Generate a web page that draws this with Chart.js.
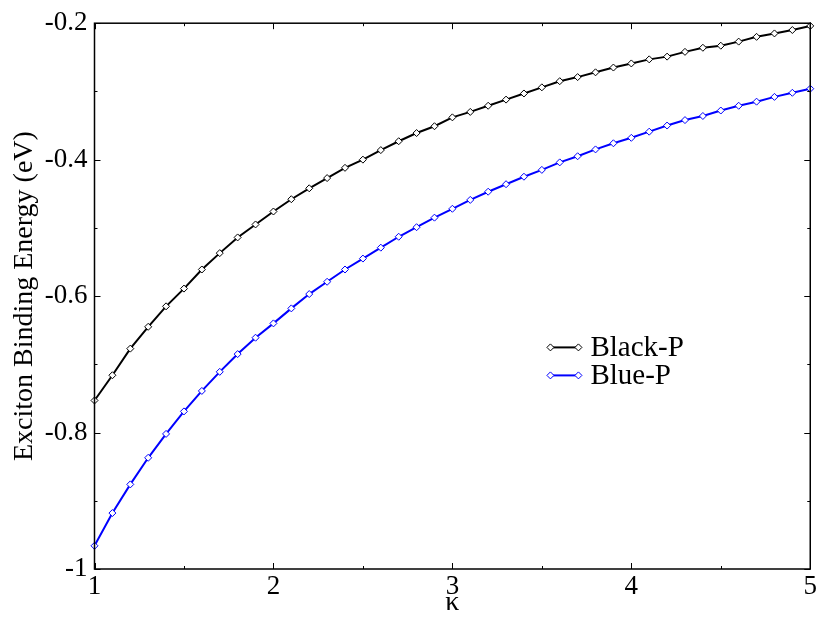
<!DOCTYPE html>
<html>
<head>
<meta charset="utf-8">
<script src="https://cdn.jsdelivr.net/npm/chart.js@4/dist/chart.umd.min.js"></script>
<style>
  html, body { margin: 0; padding: 0; background: #fff; }
  #wrap { width: 819px; height: 617px; }
</style>
</head>
<body>
<div id="wrap"><canvas id="c" width="819" height="617"></canvas></div>
<script>
const kappa = [1.0,1.1,1.2,1.3,1.4,1.5,1.6,1.7,1.8,1.9,2.0,2.1,2.2,2.3,2.4,2.5,2.6,2.7,2.8,2.9,3.0,3.1,3.2,3.3,3.4,3.5,3.6,3.7,3.8,3.9,4.0,4.1,4.2,4.3,4.4,4.5,4.6,4.7,4.8,4.9,5.0];
const blackP = [-0.753,-0.716,-0.677,-0.645,-0.615,-0.589,-0.561,-0.537,-0.514,-0.495,-0.476,-0.458,-0.442,-0.427,-0.412,-0.400,-0.386,-0.373,-0.361,-0.351,-0.338,-0.330,-0.321,-0.312,-0.303,-0.294,-0.285,-0.279,-0.272,-0.265,-0.259,-0.253,-0.249,-0.242,-0.236,-0.233,-0.227,-0.220,-0.215,-0.210,-0.204];
const blueP = [-0.966,-0.918,-0.876,-0.837,-0.802,-0.769,-0.739,-0.711,-0.685,-0.661,-0.640,-0.618,-0.597,-0.579,-0.561,-0.545,-0.529,-0.513,-0.499,-0.485,-0.472,-0.459,-0.447,-0.436,-0.425,-0.415,-0.404,-0.395,-0.385,-0.376,-0.368,-0.359,-0.350,-0.342,-0.336,-0.328,-0.321,-0.315,-0.308,-0.302,-0.296];
const seriesLabels = ["Black-P", "Blue-P"];
const seriesColors = ["#000000", "#0000ff"];
const xTicks = [1, 2, 3, 4, 5];
const yTicks = [-1, -0.8, -0.6, -0.4, -0.2];
const xTitle = "κ";
const yTitle = "Exciton Binding Energy (eV)";

const FONT = "'Liberation Serif', 'Times New Roman', serif";

function toXY(xs, ys) { return xs.map((x, i) => ({ x: x, y: ys[i] })); }

const frame = {
  id: 'frame',
  afterDraw(chart) {
    const ctx = chart.ctx;
    const a = chart.chartArea;
    const xs = chart.scales.x, ys = chart.scales.y;
    ctx.save();
    ctx.strokeStyle = '#000';
    ctx.lineWidth = 1.5;
    ctx.strokeRect(a.left, a.top, a.right - a.left, a.bottom - a.top);
    ctx.lineWidth = 1;
    for (let i = 0; i < xTicks.length; i++) {
      const px = Math.round(xs.getPixelForValue(xTicks[i])) + 0.5;
      ctx.beginPath();
      ctx.moveTo(px, a.bottom); ctx.lineTo(px, a.bottom - 6);
      ctx.moveTo(px, a.top); ctx.lineTo(px, a.top + 6);
      ctx.stroke();
      if (i < xTicks.length - 1) {
        const m = Math.round(xs.getPixelForValue((xTicks[i] + xTicks[i + 1]) / 2)) + 0.5;
        ctx.beginPath();
        ctx.moveTo(m, a.bottom); ctx.lineTo(m, a.bottom - 3);
        ctx.moveTo(m, a.top); ctx.lineTo(m, a.top + 3);
        ctx.stroke();
      }
    }
    for (let i = 0; i < yTicks.length; i++) {
      const py = Math.round(ys.getPixelForValue(yTicks[i])) + 0.5;
      ctx.beginPath();
      ctx.moveTo(a.left, py); ctx.lineTo(a.left + 6, py);
      ctx.moveTo(a.right, py); ctx.lineTo(a.right - 6, py);
      ctx.stroke();
      if (i < yTicks.length - 1) {
        const m = Math.round(ys.getPixelForValue((yTicks[i] + yTicks[i + 1]) / 2)) + 0.5;
        ctx.beginPath();
        ctx.moveTo(a.left, m); ctx.lineTo(a.left + 3, m);
        ctx.moveTo(a.right, m); ctx.lineTo(a.right - 3, m);
        ctx.stroke();
      }
    }
    // legend
    const lx0 = a.left + (a.right - a.left) * 0.637;
    const lx1 = lx0 + 28;
    const ly0 = a.top + (a.bottom - a.top) * 0.594;
    const step = 28;
    ctx.font = "29px " + FONT;
    ctx.textBaseline = 'middle';
    ctx.textAlign = 'left';
    for (let i = 0; i < seriesLabels.length; i++) {
      const y = ly0 + i * step;
      ctx.strokeStyle = seriesColors[i];
      ctx.lineWidth = 2;
      ctx.beginPath(); ctx.moveTo(lx0, y); ctx.lineTo(lx1, y); ctx.stroke();
      ctx.lineWidth = 1;
      ctx.fillStyle = '#fff';
      [lx0, lx1].forEach(cx => {
        ctx.beginPath();
        ctx.moveTo(cx, y - 3.5); ctx.lineTo(cx + 3.5, y); ctx.lineTo(cx, y + 3.5); ctx.lineTo(cx - 3.5, y); ctx.closePath();
        ctx.fill(); ctx.stroke();
      });
      ctx.fillStyle = '#000';
      ctx.fillText(seriesLabels[i], lx1 + 12, y + 1);
    }
    ctx.restore();
  }
};

const bg = {
  id: 'bg',
  beforeDraw(chart) {
    const ctx = chart.ctx;
    ctx.save(); ctx.fillStyle = '#fff'; ctx.fillRect(0, 0, chart.width, chart.height); ctx.restore();
  }
};

new Chart(document.getElementById('c'), {
  type: 'line',
  data: {
    datasets: [
      { label: seriesLabels[0], data: toXY(kappa, blackP) },
      { label: seriesLabels[1], data: toXY(kappa, blueP) }
    ].map((d, i) => Object.assign(d, {
      borderColor: seriesColors[i],
      borderWidth: 2,
      pointStyle: 'rectRot',
      pointRadius: 3.5,
      pointBorderWidth: 1,
      pointBorderColor: seriesColors[i],
      pointBackgroundColor: '#fff',
      tension: 0,
      fill: false,
      clip: false
    }))
  },
  options: {
    responsive: false,
    animation: false,
    events: [],
    layout: { padding: { left: 0, right: 7.5, top: 19.5, bottom: 0 } },
    plugins: { legend: { display: false }, tooltip: { enabled: false } },
    scales: {
      x: {
        type: 'linear', min: 1, max: 5,
        grid: { display: false, tickLength: 0 },
        border: { display: false },
        afterBuildTicks(s) { s.ticks = xTicks.map(v => ({ value: v })); },
        afterFit(s) { s.height = 48; },
        ticks: {
          color: '#000', padding: 2, maxRotation: 0,
          font: { family: FONT, size: 27 },
          callback: v => String(v)
        },
        title: {
          display: true, text: xTitle, color: '#000',
          font: { family: FONT, size: 28, lineHeight: 1 },
          padding: { top: 0, bottom: 0 }
        }
      },
      y: {
        type: 'linear', min: -1, max: -0.2,
        grid: { display: false, tickLength: 0 },
        border: { display: false },
        afterBuildTicks(s) { s.ticks = yTicks.map(v => ({ value: v })); },
        afterFit(s) { s.width = 94.5; },
        ticks: {
          color: '#000', padding: 7,
          font: { family: FONT, size: 27 },
          callback: v => String(Math.round(v * 10) / 10)
        },
        title: {
          display: true, text: yTitle, color: '#000',
          font: { family: FONT, size: 28, lineHeight: 1.2 },
          padding: { top: 8, bottom: 0 }
        }
      }
    }
  },
  plugins: [bg, frame]
});
</script>
</body>
</html>
